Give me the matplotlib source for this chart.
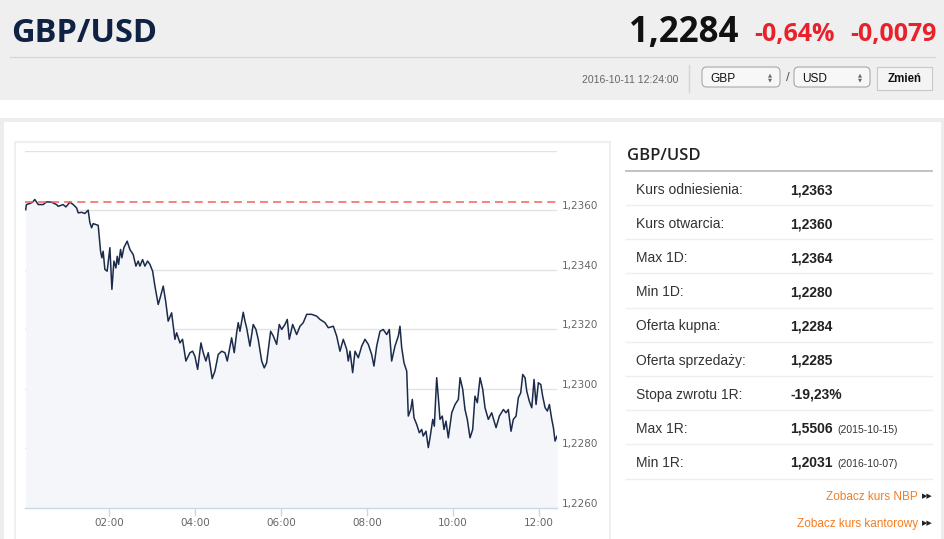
import matplotlib
matplotlib.use("Agg")
import matplotlib.pyplot as plt
from matplotlib.patches import Rectangle, FancyBboxPatch
from matplotlib.lines import Line2D
from matplotlib.transforms import ScaledTranslation

# ---------------- data ----------------
pair = "GBP/USD"
last_price = "1,2284"
change_pct = "-0,64%"
change_abs = "-0,0079"
timestamp = "2016-10-11 12:24:00"
ref_rate = 1.2363

minutes = [4, 5, 10, 13.5, 16.7, 21.4, 28.3, 33.1, 40, 47, 49.3, 56.2, 60, 65.6, 70.2, 74.9,
           77.2, 81.9, 86.5, 91.1, 93.5, 95.9, 98.1, 105.1, 108.4, 110.2, 112, 114.4, 117.6,
           121.4, 124.2, 127, 129.8, 131.6, 133.5, 136.3, 138.1, 140.9, 145.5, 149.3, 153.9,
           157.7, 160.9, 163.3, 167, 170.2, 174, 177.2, 181, 184.2, 188.8, 192.1, 195.8, 199.5,
           202.7, 207.5, 212.1, 214.5, 219.1, 222.7, 227.4, 233, 236.8, 240, 243.8, 248.4,
           251.6, 255.3, 258.6, 264.1, 267.9, 272.5, 277.3, 281.9, 285.1, 291.2, 294.8, 298.2,
           300.4, 302.8, 307.4, 309.8, 312.1, 316.7, 321.3, 325.1, 328.3, 333.1, 336.7, 340,
           345.6, 349.3, 354, 357.6, 361, 365.6, 368.8, 371.6, 376.3, 381.9, 386.5, 391.1,
           395.9, 402.8, 409.8, 414.4, 421.4, 426, 433, 437.7, 442.3, 446.9, 451.7, 453.9,
           456.3, 460, 463.3, 467.9, 472.6, 477.2, 481.8, 486.5, 489.7, 493.5, 498.1, 502.7,
           507.5, 511.1, 514.4, 519, 523.7, 526, 528.4, 531.6, 535.4, 537.6, 541, 543.2, 545.6,
           549.3, 553, 556.3, 558.4, 562.3, 565.5, 567.9, 571.7, 573.9, 577.2, 579.5, 581.8,
           585, 587.4, 590.2, 593.4, 598.2, 602.8, 607.4, 609.8, 613.5, 616.7, 619.9, 623.7,
           627.4, 630.6, 633.9, 637.7, 641.4, 644.6, 649.2, 653.9, 660, 664.6, 670.2, 673.9,
           677.1, 680.9, 684.1, 687.9, 691.1, 694.4, 697.2, 700.4, 702.8, 706.4, 709.8, 713,
           715.8, 719, 722.4, 725, 728.4, 731.6, 734.4, 737.7, 740, 742.3, 745.1]

prices = [1.23603, 1.23620, 1.23624, 1.23628, 1.23637, 1.23620, 1.23620, 1.23629, 1.23628,
          1.23620, 1.23614, 1.23620, 1.23612, 1.23628, 1.23620, 1.23609, 1.23592, 1.23594,
          1.23590, 1.23601, 1.23559, 1.23542, 1.23556, 1.23550, 1.23463, 1.23441, 1.23463,
          1.23402, 1.23396, 1.23475, 1.23335, 1.23430, 1.23407, 1.23446, 1.23419, 1.23469,
          1.23441, 1.23475, 1.23497, 1.23469, 1.23452, 1.23413, 1.23430, 1.23413, 1.23435,
          1.23413, 1.23430, 1.23419, 1.23396, 1.23346, 1.23284, 1.23312, 1.23346, 1.23290,
          1.23228, 1.23256, 1.23167, 1.23189, 1.23155, 1.23167, 1.23094, 1.23122, 1.23127,
          1.23110, 1.23066, 1.23155, 1.23122, 1.23094, 1.23122, 1.23035, 1.23060, 1.23116,
          1.23127, 1.23122, 1.23094, 1.23172, 1.23122, 1.23189, 1.23223, 1.23194, 1.23258,
          1.23228, 1.23206, 1.23144, 1.23217, 1.23200, 1.23167, 1.23094, 1.23071, 1.23088,
          1.23194, 1.23178, 1.23150, 1.23217, 1.23200, 1.23217, 1.23234, 1.23167, 1.23217,
          1.23183, 1.23211, 1.23223, 1.23251, 1.23251, 1.23245, 1.23234, 1.23223, 1.23206,
          1.23211, 1.23178, 1.23127, 1.23167, 1.23133, 1.23094, 1.23127, 1.23055, 1.23127,
          1.23105, 1.23144, 1.23167, 1.23150, 1.23116, 1.23077, 1.23144, 1.23194, 1.23200,
          1.23183, 1.23200, 1.23094, 1.23144, 1.23178, 1.23211, 1.23139, 1.23088, 1.23060,
          1.22909, 1.22931, 1.22965, 1.22903, 1.22881, 1.22853, 1.22864, 1.22842, 1.22858,
          1.22803, 1.22836, 1.22898, 1.22875, 1.23038, 1.22971, 1.22898, 1.22909, 1.22864,
          1.22892, 1.22836, 1.22920, 1.22948, 1.22965, 1.23038, 1.22999, 1.22931, 1.22898,
          1.22836, 1.22864, 1.22976, 1.22954, 1.23038, 1.22999, 1.22937, 1.22898, 1.22920,
          1.22870, 1.22909, 1.22931, 1.22920, 1.22931, 1.22858, 1.22898, 1.22909, 1.22971,
          1.22987, 1.23049, 1.23038, 1.22993, 1.22959, 1.22937, 1.23032, 1.22948, 1.23021,
          1.23015, 1.22976, 1.22937, 1.22926, 1.22948, 1.22898, 1.22870, 1.22825, 1.22842]

y_ticks = [1.2260, 1.2280, 1.2300, 1.2320, 1.2340, 1.2360, 1.2380]
y_tick_labels = ["1,2260", "1,2280", "1,2300", "1,2320", "1,2340", "1,2360", ""]
x_ticks = [120, 240, 360, 480, 600, 720]
x_tick_labels = ["02:00", "04:00", "06:00", "08:00", "10:00", "12:00"]
x_range = (3, 745)

table_labels = ["Kurs odniesienia:", "Kurs otwarcia:", "Max 1D:", "Min 1D:", "Oferta kupna:",
                "Oferta sprzedaży:", "Stopa zwrotu 1R:", "Max 1R:", "Min 1R:"]
table_values = ["1,2363", "1,2360", "1,2364", "1,2280", "1,2284", "1,2285", "-19,23%",
                "1,5506", "1,2031"]
table_notes = ["", "", "", "", "", "", "", "(2015-10-15)", "(2016-10-07)"]
links = ["Zobacz kurs NBP", "Zobacz kurs kantorowy"]

# ---------------- figure ----------------
W, H = 945, 539
plt.rcParams["lines.scale_dashes"] = False
fig = plt.figure(figsize=(W / 100, H / 100), dpi=100)
fig.patch.set_facecolor("#f0f0f0")

def fx(x):
    return x / W

def fy(y):
    return 1 - y / H

def rect(x0, y0, x1, y1, **kw):
    r = Rectangle((fx(x0), fy(y1)), (x1 - x0) / W, (y1 - y0) / H,
                  transform=fig.transFigure, **kw)
    fig.add_artist(r)
    return r

def hline(x0, x1, y, color, lw=1.0):
    fig.add_artist(Line2D([fx(x0), fx(x1)], [fy(y), fy(y)], transform=fig.transFigure,
                          color=color, lw=lw))

def text(x, y, s, **kw):
    return fig.text(fx(x), fy(y), s, **kw)

# page backgrounds
rect(0, 0, W, 100, facecolor="#efefef", edgecolor="none", zorder=0)
rect(0, 100, W, H, facecolor="#ffffff", edgecolor="none", zorder=0)
rect(0, 118, W, H, facecolor="#ededed", edgecolor="none", zorder=0)
rect(4, 122, 941, H + 5, facecolor="#ffffff", edgecolor="none", zorder=0)
rect(15, 142, 610, H + 5, facecolor="#ffffff", edgecolor="#efefef", lw=1.5, zorder=0)

# header
hline(10, 935, 56.5, "#d6d6d6", lw=0.9)
text(11, 42, pair, fontsize=23.5, fontweight="bold", family="Open Sans", color="#0f2244",
     va="baseline", ha="left")
text(738, 42, last_price, fontsize=25, fontweight="bold", family="Open Sans", color="#111111",
     va="baseline", ha="right")
text(835, 40.5, change_pct, fontsize=18, fontweight="bold", family="Open Sans", color="#e8222b",
     va="baseline", ha="right")
text(937, 40.5, change_abs, fontsize=18, fontweight="bold", family="Open Sans", color="#e8222b",
     va="baseline", ha="right")
text(582, 82.5, timestamp, fontsize=7.5, family="Liberation Sans", color="#666666",
     va="baseline", ha="left")
fig.add_artist(Line2D([fx(689), fx(689)], [fy(65), fy(92)], transform=fig.transFigure,
                      color="#d4d4d4", lw=1))

def select_box(x0, x1, label):
    b = FancyBboxPatch((fx(x0), fy(87)), (x1 - x0) / W, 20 / H,
                       boxstyle="round,pad=0,rounding_size=0.005",
                       transform=fig.transFigure, facecolor="#f7f7f7", edgecolor="#a8a8a8",
                       lw=0.8, mutation_aspect=W / H)
    fig.add_artist(b)
    text(x0 + 8, 82, label, fontsize=8.6, family="Liberation Sans", color="#111111",
         va="baseline", ha="left")
    text(x1 - 10, 74.5, "▲", fontsize=3.8, family="DejaVu Sans", color="#666666",
         va="center", ha="center")
    text(x1 - 10, 79.5, "▼", fontsize=3.8, family="DejaVu Sans", color="#666666",
         va="center", ha="center")

select_box(702, 780, "GBP")
text(788, 78, "/", fontsize=9.5, family="Liberation Sans", color="#555555", va="center",
     ha="center")
select_box(794, 870, "USD")
rect(877, 67, 932, 89.5, facecolor="#f4f4f4", edgecolor="#c8c8c8", lw=0.8)
text(904.5, 82, "Zmień", fontsize=8.3, fontweight="bold", family="Liberation Sans",
     color="#111111", va="baseline", ha="center")

# ---------------- chart ----------------
ax = fig.add_axes([fx(25), fy(508), 532 / W, 357 / H])
ax.set_facecolor("none")
ax.fill_between(minutes, prices, y_ticks[0], color="#f4f6f9", lw=0, zorder=1)
ax.plot(minutes, prices, color="#1c2b4b", lw=1.1, zorder=3, solid_joinstyle="round")
ax.axhline(ref_rate, color="#f26161", lw=1.1, dashes=(5.8, 3.6), zorder=4)
ax.set_xlim(*x_range)
ax.set_ylim(y_ticks[0], y_ticks[-1])
ax.set_yticks(y_ticks)
ax.set_yticklabels(y_tick_labels)
ax.yaxis.tick_right()
ax.tick_params(axis="y", length=0, pad=3.5, labelsize=7.5, labelcolor="#666666")
for lab in ax.get_yticklabels():
    lab.set_transform(lab.get_transform() + ScaledTranslation(0, 5 / 100, fig.dpi_scale_trans))
ax.set_xticks(x_ticks)
ax.set_xticklabels(x_tick_labels)
ax.tick_params(axis="x", length=6, width=1, color="#ccd6eb", pad=1.5, labelsize=7.5,
               labelcolor="#666666")
ax.grid(axis="y", color="#e2e2e2", lw=1.0, zorder=0)
for s in ["top", "left", "right"]:
    ax.spines[s].set_visible(False)
ax.spines["bottom"].set_color("#ccd6eb")
ax.spines["bottom"].set_linewidth(1.0)
ax.set_axisbelow(True)

# ---------------- right panel ----------------
text(627, 160, pair, fontsize=12, fontweight="semibold", family="Open Sans", color="#222222",
     va="baseline", ha="left")
hline(626, 932, 171, "#bdbdbd", lw=1.3)
for i, (lab, val, note) in enumerate(zip(table_labels, table_values, table_notes)):
    base = 194 + i * 34.1
    text(636.5, base, lab, fontsize=10, family="Liberation Sans", color="#333333",
         va="baseline", ha="left")
    text(790.5, base, val, fontsize=10, fontweight="bold", family="Liberation Sans",
         color="#222222", va="baseline", ha="left")
    if note:
        text(837, base, note, fontsize=7.5, family="Liberation Sans", color="#333333",
             va="baseline", ha="left")
    hline(626, 932, 205 + i * 34.2, "#eeeeee", lw=1.0)

for j, lk in enumerate(links):
    base = 500 + j * 27.5
    text(918, base, lk, fontsize=8.5, family="Liberation Sans", color="#f47d22",
         va="baseline", ha="right")
    text(927, base - 4, "▶▶", fontsize=5, family="DejaVu Sans", color="#222222",
         va="center", ha="center")

fig.savefig("out.png", dpi=100, facecolor=fig.get_facecolor())
